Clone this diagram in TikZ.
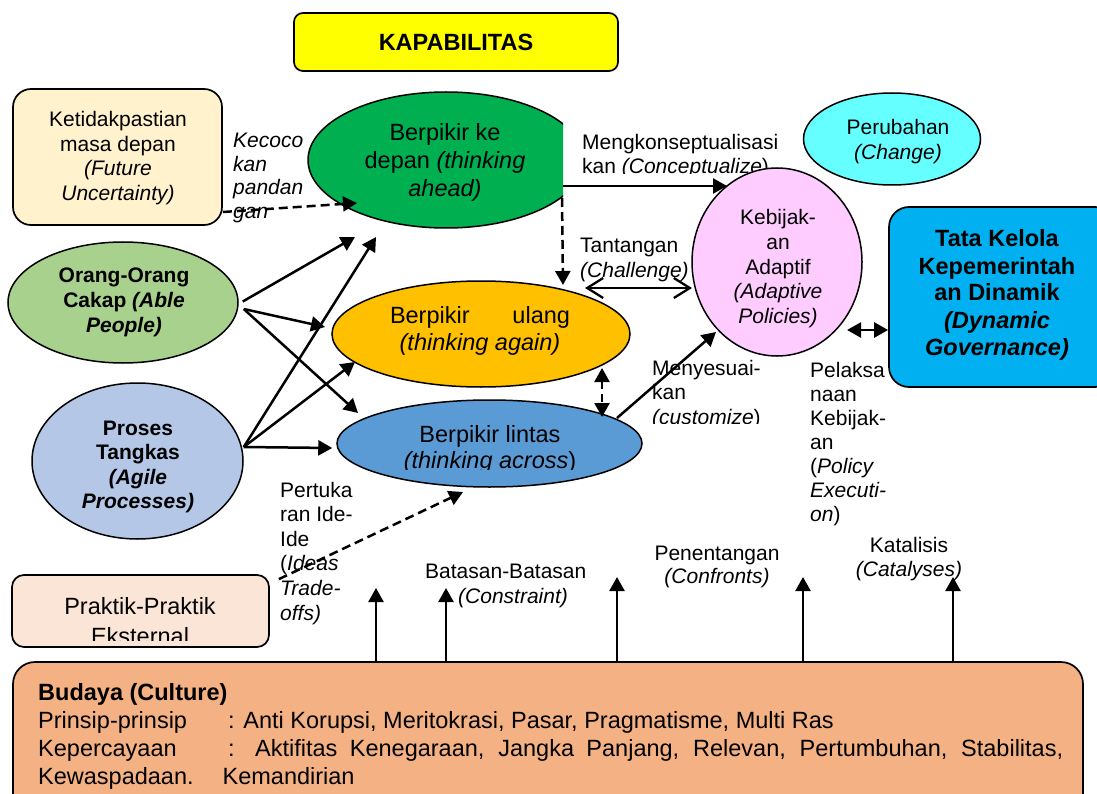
\documentclass[tikz,border=0pt]{standalone}
\usepackage{fontspec}
\setmainfont{Liberation Sans}
\usetikzlibrary{arrows.meta,shapes.geometric}

\definecolor{capyellow}{HTML}{FFFF00}
\definecolor{creamfill}{HTML}{FFF2CC}
\definecolor{aheadgreen}{HTML}{00B050}
\definecolor{ablegreen}{HTML}{A9D18E}
\definecolor{againorange}{HTML}{FFC000}
\definecolor{agileblue}{HTML}{B4C7E7}
\definecolor{acrossblue}{HTML}{5B9BD5}
\definecolor{adaptpink}{HTML}{FFCCFF}
\definecolor{changecyan}{HTML}{66FFFF}
\definecolor{govblue}{HTML}{00B0F0}
\definecolor{extpeach}{HTML}{FBE5D6}
\definecolor{culturefill}{HTML}{F4B183}

\newcommand\fnorm{\fontsize{21}{24.5}\selectfont}
\newcommand\fbig{\fontsize{23.5}{28}\selectfont}
% one node per text line: name, x, first baseline, line step, style, lines
\newcommand\textstack[6]{%
  \foreach \tline [count=\k] in {#6} {%
    \node[#5] (#1-\k) at (#2,{#3+#4*(\k-1)}) {\tline};}}

\begin{document}
\begin{tikzpicture}[x=1pt,y=-1pt,
  blob/.style={ellipse, draw=black, line width=1.5pt, inner sep=0pt},
  panel/.style={rectangle, rounded corners=#1, draw=black, line width=1.7pt, inner sep=0pt},
  saytext/.style={inner sep=0pt, anchor=base west, font=\fnorm},
  sayital/.style={inner sep=0pt, anchor=base west, font=\fnorm\itshape},
  centertext/.style={inner sep=0pt, anchor=base, font=\fnorm},
  boldtext/.style={inner sep=0pt, anchor=base, font=\fnorm\bfseries},
  bigtext/.style={inner sep=0pt, anchor=base, font=\fbig},
  bigbold/.style={inner sep=0pt, anchor=base, font=\fbig\bfseries},
  culttext/.style={inner sep=0pt, anchor=base west, font=\fbig},
  link/.style={line width=2.5pt, -{Triangle[length=14pt,width=15pt]}},
  twolink/.style={line width=2.5pt, {Triangle[length=14pt,width=15pt]}-{Triangle[length=14pt,width=15pt]}},
  dashlink/.style={link, dash pattern=on 9pt off 5pt},
  barbs/.style={line width=2.3pt, {Straight Barb[length=16pt,width=20pt]}-{Straight Barb[length=16pt,width=20pt]}}
]
\useasboundingbox (0,0) rectangle (1097,794);
\fill[white] (0,0) rectangle (1097,794);

% ---------- free labels on the connectors ----------
\textstack{kec}{233}{148}{23.5}{sayital}{Kecoco,kan,pandan,gan}
\begin{scope}
  \clip (570,120) rectangle (800,174);
  \textstack{conc}{582}{150}{24}{saytext}{Mengkonseptualisasi,kan \textit{(Conceptualize})}
\end{scope}
\textstack{chal}{580}{253}{24.5}{saytext}{Tantangan,\textit{(Challenge)}}
\begin{scope}
  \clip (640,350) rectangle (800,423);
  \textstack{cust}{652}{375}{24.5}{saytext}{Menyesuai-,kan,\textit{(customize})}
\end{scope}
\textstack{exec}{810}{377}{24}{saytext}{Pelaksa,naan,Kebijak-,an,\upshape(\textit{Policy},\textit{Executi-},\textit{on})}
\textstack{trade}{280}{497}{24.6}{saytext}{Pertuka,ran Ide-,Ide,\upshape(\textit{Ideas},\textit{Trade-},\textit{offs)}}
\node[saytext] (constr-1) at (425,578) {Batasan-Batasan};
\node[saytext] (constr-2) at (458,603) {\textit{(Constraint)}};
\textstack{confr}{717}{560}{23.5}{centertext}{Penentangan,\textit{(Confronts)}}
\textstack{catal}{909}{552}{24}{centertext}{Katalisis,\textit{(Catalyses)}}

% ---------- boxes ----------
\node[panel=9pt, fill=capyellow, minimum width=324pt, minimum height=58pt,
      font=\fbig\bfseries] (cap) at (456,42) {KAPABILITAS};
\node[panel=18pt, fill=creamfill, minimum width=209pt, minimum height=136pt] (future) at (117.5,157) {};
\textstack{futt}{118}{127}{24.5}{centertext}{Ketidakpastian,masa depan,\textit{(Future},\textit{Uncertainty)}}
\node[panel=20pt, fill=govblue, minimum width=226pt, minimum height=180pt] (gov) at (1002,297) {};
\textstack{govt}{997}{247}{27}{bigbold}{Tata Kelola,Kepemerintah,an Dinamik,\textit{(Dynamic},\textit{Governance)}}
\node[panel=12pt, fill=extpeach, minimum width=257pt, minimum height=72pt] (ext) at (140.5,611) {};
\begin{scope}
  \clip (14,577) rectangle (266,640);
  \textstack{extt}{140}{614}{30}{bigtext}{Praktik-Praktik,Eksternal}
\end{scope}
\node[panel=22pt, fill=culturefill, minimum width=1070pt, minimum height=153pt] (culture) at (548,738.5) {};
\node[culttext, font=\fbig\bfseries] (cult-title) at (38,700) {Budaya (Culture)};
\node[culttext] (cult-p) at (38,728) {Prinsip-prinsip};
\node[culttext] (cult-pv) at (228,728) {: Anti Korupsi, Meritokrasi, Pasar, Pragmatisme, Multi Ras};
\node[culttext] (cult-k) at (38,756) {Kepercayaan};
\node[culttext] (cult-kv) at (228,756) {\makebox[835pt][s]{: Aktifitas Kenegaraan, Jangka Panjang, Relevan, Pertumbuhan, Stabilitas,}};
\node[culttext] (cult-last) at (38,784) {Kewaspadaan.\hspace{29pt}Kemandirian};

% ---------- ellipses ----------
\begin{scope}
  \clip (0,0) rectangle (563,794);
  \node[blob, fill=aheadgreen, minimum width=276pt, minimum height=136pt] (ahead) at (446,160) {};
\end{scope}
\textstack{aheadt}{445}{141}{28}{bigtext}{Berpikir ke,depan \textit{(thinking},\textit{ahead)}}

\node[blob, fill=ablegreen, minimum width=230pt, minimum height=121pt] (able) at (123,302.5) {};
\textstack{ablet}{124}{283}{24.5}{boldtext}{Orang-Orang,Cakap \textit{(Able},\textit{People)}}

\node[blob, fill=againorange, minimum width=298pt, minimum height=106pt] (again) at (481,334) {};
\textstack{againt}{480}{323}{27}{bigtext}{\makebox[180pt][s]{Berpikir ulang},\textit{(thinking again)}}

\node[blob, fill=agileblue, minimum width=211pt, minimum height=156pt] (agile) at (137.5,461) {};
\textstack{agilet}{138}{435}{24.5}{boldtext}{Proses,Tangkas,\textit{(Agile},\textit{Processes)}}

\node[blob, fill=acrossblue, minimum width=305pt, minimum height=87pt] (across) at (489.5,443.5) {};
\begin{scope}
  \clip (340,410) rectangle (640,469);
  \textstack{acrosst}{490}{442}{26}{bigtext}{Berpikir lintas,\textit{(thinking across})}
\end{scope}

\node[blob, fill=adaptpink, minimum width=170pt, minimum height=188pt] (adapt) at (777,262) {};
\textstack{adaptt}{778}{225}{24.5}{centertext}{Kebijak-,an,Adaptif,\textit{(Adaptive},\textit{Policies)}}

\node[blob, fill=changecyan, minimum width=177pt, minimum height=92pt] (change) at (892,139) {};
\textstack{changet}{898}{135}{25}{centertext}{Perubahan,\textit{(Change)}}

% ---------- connectors ----------
\draw[dashlink] ([yshift=-55pt]future.east) -- ([xshift=-89pt,yshift=-43pt]ahead.center);

\draw[link] ([xshift=4pt,yshift=1pt]able.east) -- ([xshift=-91pt,yshift=-77pt]ahead.center);
\draw[link] ([xshift=5pt,yshift=-6.5pt]able.east) -- ([xshift=-156pt,yshift=7pt]again.center);
\draw[link] ([xshift=5pt,yshift=-6.5pt]able.east) -- ([xshift=-131.5pt,yshift=30.5pt]across.center);

\draw[link] ([yshift=14pt]agile.east) -- ([xshift=-70pt,yshift=-77pt]ahead.center);
\draw[link] ([yshift=14pt]agile.east) -- ([xshift=-126pt,yshift=-28pt]again.center);
\draw[link] ([yshift=14pt]agile.east) -- ([xshift=-4pt,yshift=-4.5pt]across.west);

\draw[link] ([xshift=117pt,yshift=-26pt]ahead.center) -- ([xshift=-50pt,yshift=76pt]adapt.center);
\draw[dashlink] ([xshift=116pt,yshift=-38pt]ahead.center) -- ([xshift=82pt,yshift=49pt]again.center);
\draw[barbs] ([xshift=104pt,yshift=46pt]again.center) -- ([xshift=-85pt,yshift=-26pt]adapt.center);
\draw[twolink, dash pattern=on 8pt off 5pt] ([xshift=121pt,yshift=-34pt]again.center) -- ([xshift=112.5pt,yshift=26.5pt]across.center);
\draw[link] ([xshift=127.5pt,yshift=25.5pt]across.center) -- ([xshift=-61pt,yshift=-70pt]adapt.center);
\draw[twolink] ([xshift=70pt,yshift=-68pt]adapt.center) -- ([yshift=-33pt]gov.west);
\draw[dashlink] ([xshift=9pt,yshift=-5pt]ext.north east) -- ([xshift=-26.5pt,yshift=-48.5pt]across.center);

% influences rising from the culture box
\coordinate (up1) at (376,588);
\coordinate (up2) at (446,588);
\coordinate (up3) at (617,577);
\coordinate (up4) at (803,577);
\coordinate (up5) at (953,577);
\foreach \u in {up1,up2,up3,up4,up5}
  \draw[link] (culture.north west -| \u) -- (\u);
\end{tikzpicture}
\end{document}
